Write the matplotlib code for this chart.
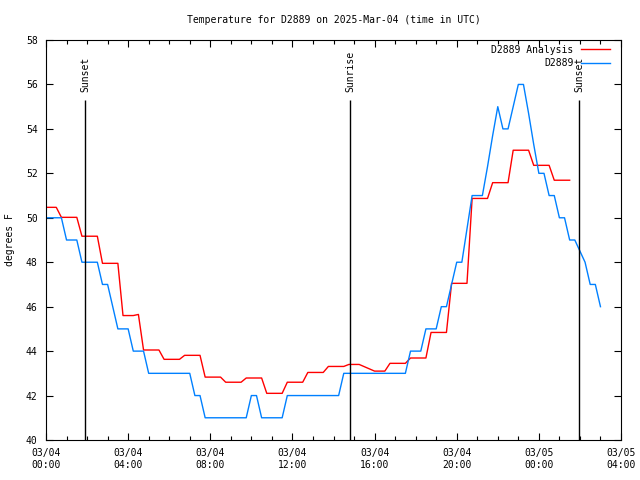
import pandas as pd
import matplotlib
matplotlib.use('Agg')
import matplotlib.pyplot as plt
import matplotlib.dates as mdates

# Beobachtung D2889 (15-Minuten-Werte, Grad F)
obs_times = ['03-04 00:00', '03-04 00:45', '03-04 01:00', '03-04 01:30', '03-04 01:45',
             '03-04 02:30', '03-04 02:45', '03-04 03:00', '03-04 03:15', '03-04 03:30',
             '03-04 04:00', '03-04 04:15', '03-04 04:45', '03-04 05:00', '03-04 07:00',
             '03-04 07:15', '03-04 07:30', '03-04 07:45', '03-04 09:45', '03-04 10:00',
             '03-04 10:15', '03-04 10:30', '03-04 11:30', '03-04 11:45', '03-04 14:15',
             '03-04 14:30', '03-04 17:30', '03-04 17:45', '03-04 18:15', '03-04 18:30',
             '03-04 19:00', '03-04 19:15', '03-04 19:30', '03-04 19:45', '03-04 20:00',
             '03-04 20:15', '03-04 20:30', '03-04 20:45', '03-04 21:15', '03-04 21:30',
             '03-04 21:45', '03-04 22:00', '03-04 22:15', '03-04 22:30', '03-04 22:45',
             '03-04 23:00', '03-04 23:15', '03-04 23:30', '03-04 23:45', '03-05 00:00',
             '03-05 00:15', '03-05 00:30', '03-05 00:45', '03-05 01:00', '03-05 01:15',
             '03-05 01:30', '03-05 01:45', '03-05 02:00', '03-05 02:15', '03-05 02:30',
             '03-05 02:45', '03-05 03:00']
obs_temp = [50, 50, 49, 49, 48,
            48, 47, 47, 46, 45,
            45, 44, 44, 43, 43,
            42, 42, 41, 41, 42,
            42, 41, 41, 42, 42,
            43, 43, 44, 44, 45,
            45, 46, 46, 47, 48,
            48, 49.5, 51, 51, 52.3,
            53.7, 55, 54, 54, 55,
            56, 56, 54.7, 53.3, 52,
            52, 51, 51, 50, 50,
            49, 49, 48.5, 48, 47,
            47, 46]

# Analyse D2889
ana_times = ['03-04 00:00', '03-04 00:30', '03-04 00:45', '03-04 01:30', '03-04 01:45',
             '03-04 02:30', '03-04 02:45', '03-04 03:30', '03-04 03:45', '03-04 04:15',
             '03-04 04:30', '03-04 04:45', '03-04 05:30', '03-04 05:45', '03-04 06:30',
             '03-04 06:45', '03-04 07:30', '03-04 07:45', '03-04 08:30', '03-04 08:45',
             '03-04 09:30', '03-04 09:45', '03-04 10:30', '03-04 10:45', '03-04 11:30',
             '03-04 11:45', '03-04 12:30', '03-04 12:45', '03-04 13:30', '03-04 13:45',
             '03-04 14:30', '03-04 14:45', '03-04 15:15', '03-04 16:00', '03-04 16:30',
             '03-04 16:45', '03-04 17:30', '03-04 17:45', '03-04 18:30', '03-04 18:45',
             '03-04 19:30', '03-04 19:45', '03-04 20:30', '03-04 20:45', '03-04 21:30',
             '03-04 21:45', '03-04 22:30', '03-04 22:45', '03-04 23:30', '03-04 23:45',
             '03-05 00:30', '03-05 00:45', '03-05 01:30']
ana_temp = [50.47, 50.47, 50.02, 50.02, 49.17,
            49.17, 47.95, 47.95, 45.6, 45.6,
            45.65, 44.05, 44.05, 43.63, 43.63,
            43.81, 43.81, 42.83, 42.83, 42.6,
            42.6, 42.79, 42.79, 42.1, 42.1,
            42.6, 42.6, 43.04, 43.04, 43.31,
            43.31, 43.4, 43.4, 43.1, 43.1,
            43.45, 43.45, 43.69, 43.69, 44.84,
            44.84, 47.05, 47.05, 50.87, 50.87,
            51.58, 51.58, 53.04, 53.04, 52.36,
            52.36, 51.69, 51.69]

# Sonnenauf- und -untergang
sun_times = ['03-04 01:54', '03-04 14:48', '03-05 01:57']
sun_labels = ['Sunset', 'Sunrise', 'Sunset']

def to_dt(lst):
    return pd.to_datetime(['2025-' + t for t in lst])

obs_dt = to_dt(obs_times)
ana_dt = to_dt(ana_times)
sun_dt = to_dt(sun_times)

plt.rcParams['font.family'] = 'DejaVu Sans Mono'
plt.rcParams['font.size'] = 7

fig = plt.figure(figsize=(6.4, 4.8), dpi=100)
ax = fig.add_axes([46 / 640, 40 / 480, 575 / 640, 400 / 480])

ax.plot(ana_dt, ana_temp, color='#ff0000', lw=1.0, label='D2889 Analysis')
ax.plot(obs_dt, obs_temp, color='#0080ff', lw=1.0, label='D2889')

for t, lab in zip(sun_dt, sun_labels):
    ax.vlines(t, 40, 55.3, color='black', lw=1.0)
    ax.text(t, 55.65, lab, rotation=90, ha='center', va='bottom', fontsize=7)

ax.set_xlim(pd.Timestamp('2025-03-04 00:00'), pd.Timestamp('2025-03-05 04:00'))
ax.set_ylim(40, 58)
ax.set_yticks(range(40, 59, 2))
ax.xaxis.set_major_locator(mdates.HourLocator(byhour=range(0, 24, 4)))
ax.xaxis.set_minor_locator(mdates.HourLocator())
ax.xaxis.set_major_formatter(mdates.DateFormatter('%m/%d\n%H:%M'))

ax.tick_params(which='both', direction='in', top=True, right=True, width=0.8, labelsize=7)
ax.tick_params(which='major', length=5, pad=6)
ax.tick_params(which='minor', length=3)
for s in ax.spines.values():
    s.set_linewidth(0.8)

ax.set_ylabel('degrees F', fontsize=7, labelpad=8)
ax.set_title('Temperature for D2889 on 2025-Mar-04 (time in UTC)', fontsize=7, pad=12)

ax.legend(loc='upper right', bbox_to_anchor=(0.988, 0.998), frameon=False,
          markerfirst=False, fontsize=7, handlelength=3.0, handletextpad=0.8,
          labelspacing=0.35, borderaxespad=0.0)

fig.savefig('out.png', dpi=100)
